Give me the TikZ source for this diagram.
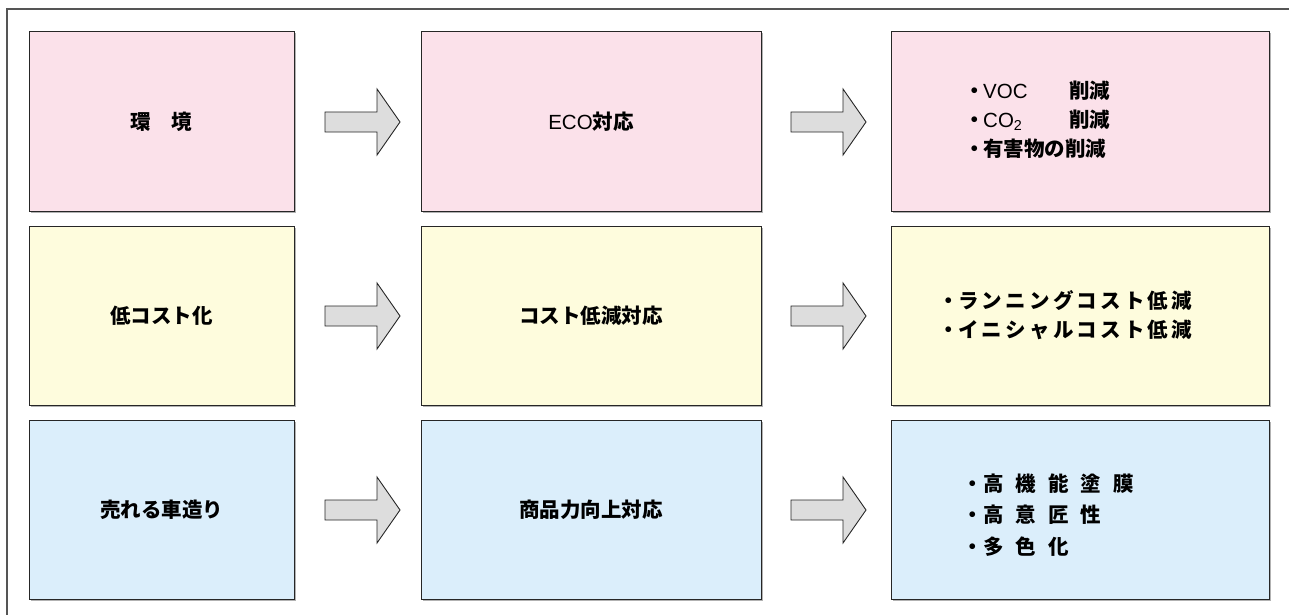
\documentclass[tikz,border=0pt]{standalone}
\usepackage{fontspec}
\setmainfont{Liberation Sans}
\newfontfamily\cjk{Noto Sans CJK JP}
\usetikzlibrary{shadows}
\definecolor{pinkc}{RGB}{251,225,234}
\definecolor{yellowc}{RGB}{254,252,221}
\definecolor{bluec}{RGB}{219,238,251}
\definecolor{arrowc}{RGB}{221,221,221}
\definecolor{framec}{RGB}{85,85,85}
\newcommand\jb[1]{{\cjk\bfseries #1}}
\newcommand\ks{\hspace{3.2pt}}
\tikzset{
  box/.style={draw=black!85, line width=1pt, rectangle, inner sep=0pt,
    font=\fontsize{20.5}{24}\selectfont,
    drop shadow={shadow xshift=1.5pt, shadow yshift=-1.5pt, fill=black!30, opacity=1}},
  colA/.style={box, minimum width=265pt, minimum height=179pt},
  colB/.style={box, minimum width=340pt, minimum height=179pt},
  colC/.style={box, minimum width=378pt, minimum height=179pt},
  txt/.style={inner sep=0pt, anchor=west, text height=18pt, text depth=3pt,
    font=\fontsize{20.5}{24}\selectfont},
  bul/.style={inner sep=0pt, text height=18pt, text depth=3pt,
    font=\fontsize{20.5}{24}\selectfont},
  arrowstyle/.style={draw=black!85, line width=0.9pt, fill=arrowc, line join=miter},
  barrow/.pic={\draw[arrowstyle] (0,-10)--(52,-10)--(52,-33)--(75,0)--(52,33)--(52,10)--(0,10)--cycle;}
}
\begin{document}
\begin{tikzpicture}[x=1pt,y=-1pt]
\useasboundingbox (0,0) rectangle (1289,615);
\draw[framec, line width=1.5pt] (7,615) -- (7,9) -- (1289,9);

% row 1
\node[colA, fill=pinkc] (env) at (161.5,121.5) {\jb{環　境}};
\node[colB, fill=pinkc] (eco) at (591,121.5) {ECO\jb{対応}};
\node[colC, fill=pinkc] (ecoR) at (1080,121.5) {};
% row 2
\node[colA, fill=yellowc] (cost) at (161.5,315.5) {\jb{低コスト化}};
\node[colB, fill=yellowc] (costM) at (591,315.5) {\jb{コスト低減対応}};
\node[colC, fill=yellowc] (costR) at (1080,315.5) {};
% row 3
\node[colA, fill=bluec] (sell) at (161.5,509.5) {\jb{売れる車造り}};
\node[colB, fill=bluec] (sellM) at (591,509.5) {\jb{商品力向上対応}};
\node[colC, fill=bluec] (sellR) at (1080,509.5) {};

% arrows
\foreach \y in {122,316,510}{
  \pic at (325,\y) {barrow};
  \pic at (791,\y) {barrow};
}

% right texts row 1
\node[bul] (b11) at (975,91) {\jb{・}};
\node[txt] (t11) at (983,91) {VOC};
\node[txt] (t11b) at (1069,91) {\jb{削減}};
\node[bul] (b12) at (975,120) {\jb{・}};
\node[txt] (t12) at (983,120) {CO\textsubscript{2}};
\node[txt] (t12b) at (1069,120) {\jb{削減}};
\node[bul] (b13) at (975,149) {\jb{・}};
\node[txt] (t13) at (983,149) {\jb{有害物の削減}};

% right texts row 2
\node[bul] (b21) at (949,301) {\jb{・}};
\node[txt] (t21) at (958,301) {\jb{ラ\ks ン\ks ニ\ks ン\ks グ\ks コ\ks ス\ks ト\ks 低\ks 減}};
\node[bul] (b22) at (949,330) {\jb{・}};
\node[txt] (t22) at (958,330) {\jb{イ\ks ニ\ks シ\ks ャ\ks ル\ks コ\ks ス\ks ト\ks 低\ks 減}};

% right texts row 3
\node[bul] (b31) at (973,484) {\jb{・}};
\node[txt] (t31) at (983,484) {\jb{高\hspace{12pt}機\hspace{12pt}能\hspace{12pt}塗\hspace{12pt}膜}};
\node[bul] (b32) at (973,515) {\jb{・}};
\node[txt] (t32) at (983,515) {\jb{高\hspace{12pt}意\hspace{12pt}匠\hspace{12pt}性}};
\node[bul] (b33) at (973,547) {\jb{・}};
\node[txt] (t33) at (983,547) {\jb{多\hspace{12pt}色\hspace{12pt}化}};
\end{tikzpicture}
\end{document}
